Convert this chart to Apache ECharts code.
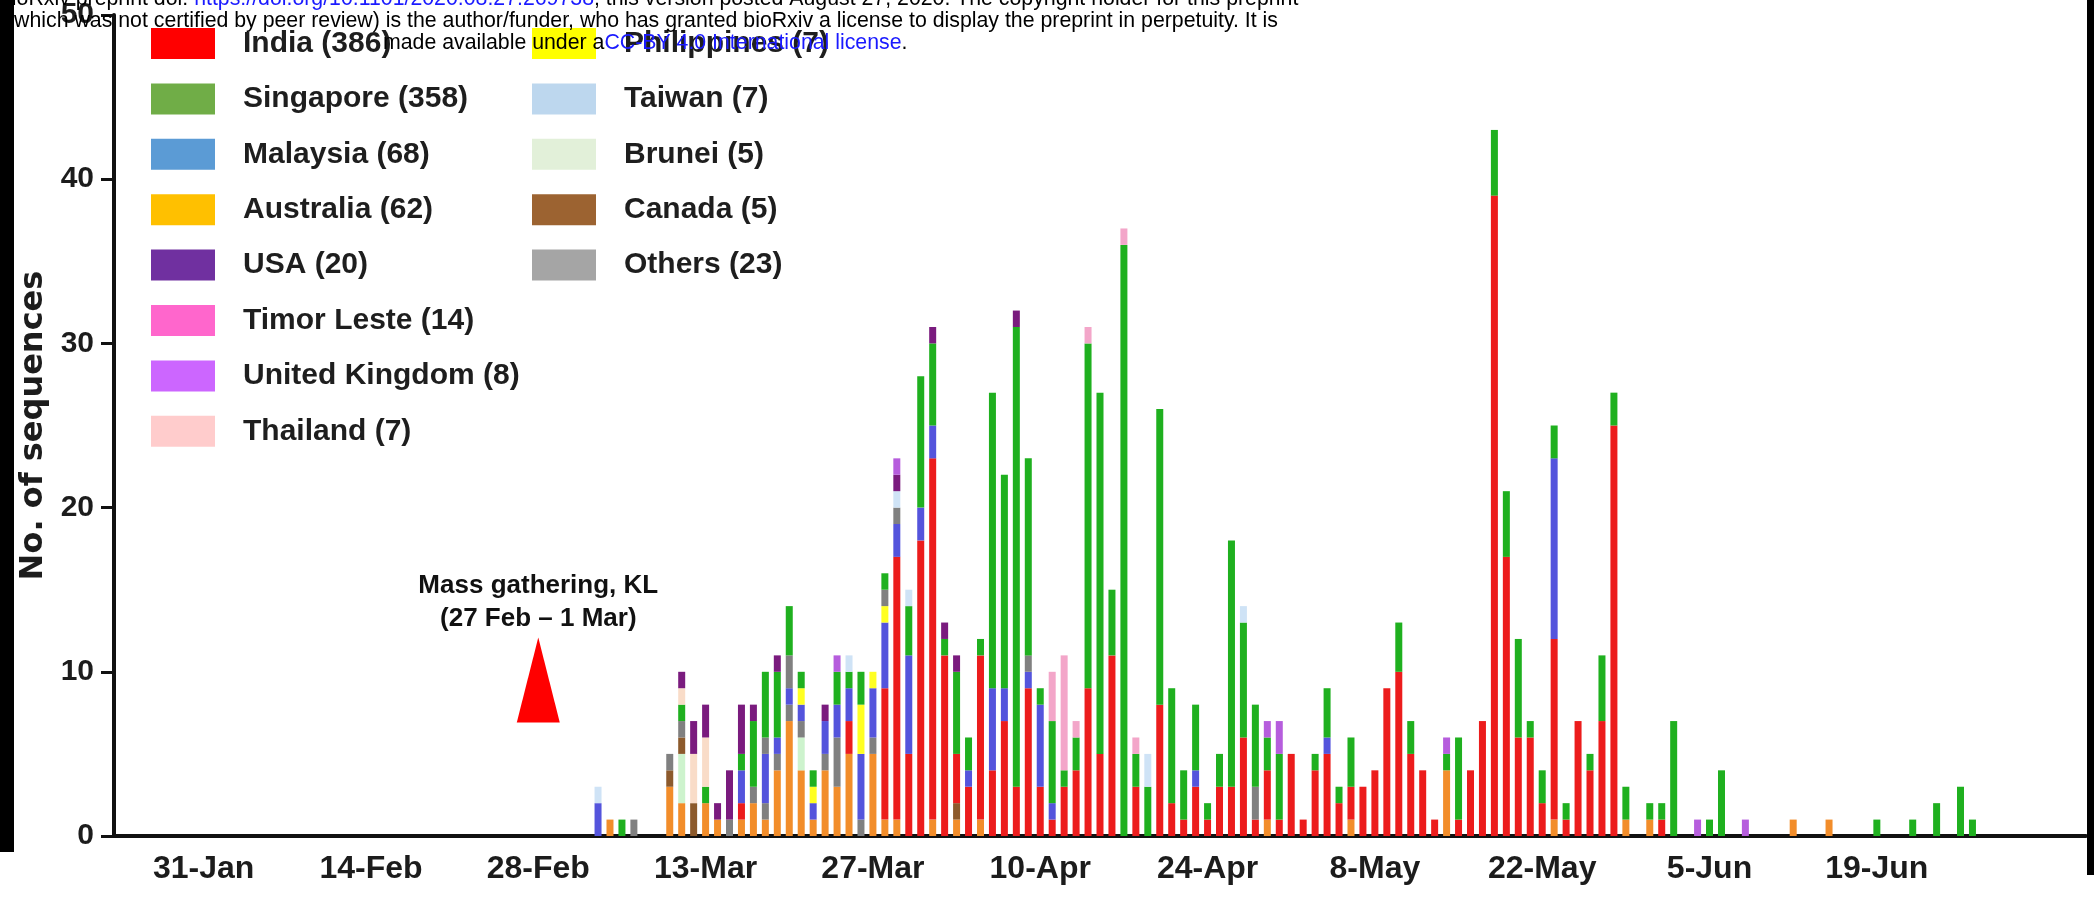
<!DOCTYPE html>
<html>
<head>
<meta charset="utf-8">
<title>No. of sequences by date</title>
<script src="https://cdn.jsdelivr.net/npm/echarts@6/dist/echarts.min.js"></script>
<style>
    html, body { margin: 0; padding: 0; background: #fff; }
    #main { width: 2094px; height: 899px; }
</style>
</head>
<body>
<div id="main"></div>
<script>
// categories: one per day, 24-Jan .. 6-Jul 2020
var months = [['Jan', 24, 31], ['Feb', 1, 29], ['Mar', 1, 31], ['Apr', 1, 30], ['May', 1, 31], ['Jun', 1, 30], ['Jul', 1, 6]];
var tickLabels = ['31-Jan', '14-Feb', '28-Feb', '13-Mar', '27-Mar', '10-Apr', '24-Apr', '8-May', '22-May', '5-Jun', '19-Jun'];

// sequences per day, [day, count]
var australia = [['5-Mar', 1], ['10-Mar', 3], ['11-Mar', 2], ['13-Mar', 2], ['14-Mar', 1], ['16-Mar', 1], ['17-Mar', 2], ['18-Mar', 1],
    ['19-Mar', 4], ['20-Mar', 7], ['21-Mar', 4], ['22-Mar', 1], ['23-Mar', 4], ['24-Mar', 3], ['25-Mar', 5], ['27-Mar', 5], ['28-Mar', 1],
    ['29-Mar', 1], ['1-Apr', 1], ['3-Apr', 1], ['5-Apr', 1], ['29-Apr', 1], ['6-May', 1], ['14-May', 4], ['23-May', 1], ['29-May', 1],
    ['31-May', 1], ['12-Jun', 1], ['15-Jun', 1]];
var brunei = [['11-Mar', 3], ['21-Mar', 2]];
var canada = [['10-Mar', 1], ['11-Mar', 1], ['12-Mar', 2], ['3-Apr', 1]];
var othersLow = [['7-Mar', 1], ['10-Mar', 1], ['11-Mar', 1], ['15-Mar', 1], ['17-Mar', 1], ['18-Mar', 1], ['19-Mar', 1], ['20-Mar', 1],
    ['21-Mar', 1], ['23-Mar', 1], ['24-Mar', 3], ['26-Mar', 1], ['27-Mar', 1]];
var india = [['16-Mar', 1], ['25-Mar', 2], ['28-Mar', 8], ['29-Mar', 16], ['30-Mar', 5], ['31-Mar', 18], ['1-Apr', 22], ['2-Apr', 11],
    ['3-Apr', 3], ['4-Apr', 3], ['5-Apr', 10], ['6-Apr', 4], ['7-Apr', 7], ['8-Apr', 3], ['9-Apr', 9], ['10-Apr', 3], ['11-Apr', 1],
    ['12-Apr', 3], ['13-Apr', 4], ['14-Apr', 9], ['15-Apr', 5], ['16-Apr', 11], ['18-Apr', 3], ['20-Apr', 8], ['21-Apr', 2], ['22-Apr', 1],
    ['23-Apr', 3], ['24-Apr', 1], ['25-Apr', 3], ['26-Apr', 3], ['27-Apr', 6], ['28-Apr', 1], ['29-Apr', 3], ['30-Apr', 1],
    ['1-May', 5], ['2-May', 1], ['3-May', 4], ['4-May', 5], ['5-May', 2], ['6-May', 2], ['7-May', 3], ['8-May', 4], ['9-May', 9],
    ['10-May', 10], ['11-May', 5], ['12-May', 4], ['13-May', 1], ['15-May', 1], ['16-May', 4], ['17-May', 7], ['18-May', 39],
    ['19-May', 17], ['20-May', 6], ['21-May', 6], ['22-May', 2], ['23-May', 11], ['24-May', 1], ['25-May', 7], ['26-May', 4],
    ['27-May', 7], ['28-May', 25], ['1-Jun', 1]];
var malaysia = [['4-Mar', 2], ['16-Mar', 2], ['18-Mar', 3], ['19-Mar', 1], ['20-Mar', 1], ['21-Mar', 1], ['22-Mar', 1], ['23-Mar', 2],
    ['24-Mar', 2], ['25-Mar', 2], ['26-Mar', 4], ['27-Mar', 3], ['28-Mar', 4], ['29-Mar', 2], ['30-Mar', 6], ['31-Mar', 2], ['1-Apr', 2],
    ['4-Apr', 1], ['6-Apr', 5], ['7-Apr', 2], ['9-Apr', 1], ['10-Apr', 5], ['11-Apr', 1], ['23-Apr', 1], ['4-May', 1], ['23-May', 11]];
var philippines = [['21-Mar', 1], ['22-Mar', 1], ['26-Mar', 3], ['27-Mar', 1], ['28-Mar', 1]];
var othersHigh = [['18-Mar', 1], ['20-Mar', 2], ['28-Mar', 1], ['29-Mar', 1], ['9-Apr', 1], ['28-Apr', 2]];
var singapore = [['6-Mar', 1], ['11-Mar', 1], ['13-Mar', 1], ['16-Mar', 1], ['17-Mar', 4], ['18-Mar', 4], ['19-Mar', 4], ['20-Mar', 3],
    ['21-Mar', 1], ['22-Mar', 1], ['24-Mar', 2], ['25-Mar', 1], ['26-Mar', 2], ['28-Mar', 1], ['30-Mar', 3], ['31-Mar', 8],
    ['1-Apr', 5], ['2-Apr', 1], ['3-Apr', 5], ['4-Apr', 2], ['5-Apr', 1], ['6-Apr', 18], ['7-Apr', 13], ['8-Apr', 28], ['9-Apr', 12],
    ['10-Apr', 1], ['11-Apr', 5], ['12-Apr', 1], ['13-Apr', 2], ['14-Apr', 21], ['15-Apr', 22], ['16-Apr', 4], ['17-Apr', 36],
    ['18-Apr', 2], ['19-Apr', 3], ['20-Apr', 18], ['21-Apr', 7], ['22-Apr', 3], ['23-Apr', 4], ['24-Apr', 1], ['25-Apr', 2],
    ['26-Apr', 15], ['27-Apr', 7], ['28-Apr', 5], ['29-Apr', 2], ['30-Apr', 4], ['3-May', 1], ['4-May', 3], ['5-May', 1], ['6-May', 3],
    ['10-May', 3], ['11-May', 2], ['14-May', 1], ['15-May', 5], ['18-May', 4], ['19-May', 4], ['20-May', 6], ['21-May', 1],
    ['22-May', 2], ['23-May', 2], ['24-May', 1], ['26-May', 1], ['27-May', 4], ['28-May', 2], ['29-May', 2], ['31-May', 1],
    ['1-Jun', 1], ['2-Jun', 7], ['5-Jun', 1], ['6-Jun', 4], ['19-Jun', 1], ['22-Jun', 1], ['24-Jun', 2], ['26-Jun', 3], ['27-Jun', 1]];
var taiwan = [['4-Mar', 1], ['25-Mar', 1], ['29-Mar', 1], ['30-Mar', 1], ['19-Apr', 2], ['27-Apr', 1]];
var thailand = [['11-Mar', 1], ['12-Mar', 3], ['13-Mar', 3]];
var timorLeste = [['11-Apr', 3], ['12-Apr', 7], ['13-Apr', 1], ['14-Apr', 1], ['17-Apr', 1], ['18-Apr', 1]];
var usa = [['11-Mar', 1], ['12-Mar', 2], ['13-Mar', 2], ['14-Mar', 1], ['15-Mar', 3], ['16-Mar', 3], ['17-Mar', 1], ['19-Mar', 1],
    ['23-Mar', 1], ['29-Mar', 1], ['1-Apr', 1], ['2-Apr', 1], ['3-Apr', 1], ['8-Apr', 1]];
var uk = [['24-Mar', 1], ['29-Mar', 1], ['29-Apr', 1], ['30-Apr', 2], ['14-May', 1], ['4-Jun', 1], ['8-Jun', 1]];

// mass gathering marker
var eventMark = [['28-Feb', 9.5]];

var days = [];
for (var m = 0; m < months.length; ++m) {
    for (var d = months[m][1]; d <= months[m][2]; ++d) {
        days.push(d + '-' + months[m][0]);
    }
}

function toSeries(pairs) {
    var out = [];
    for (var i = 0; i < days.length; ++i) out.push(null);
    for (var j = 0; j < pairs.length; ++j) {
        out[days.indexOf(pairs[j][0])] = pairs[j][1];
    }
    return out;
}

// stack order (bottom -> top), bar colour
var stackDefs = [
    { name: 'Australia (62)', data: australia, color: '#f28d2a' },
    { name: 'Brunei (5)', data: brunei, color: '#cdf3cd' },
    { name: 'Canada (5)', data: canada, color: '#8c5a2c' },
    { name: 'Others (23)', data: othersLow, color: '#808080' },
    { name: 'India (386)', data: india, color: '#ec1c1c' },
    { name: 'Malaysia (68)', data: malaysia, color: '#5454dc' },
    { name: 'Philippines (7)', data: philippines, color: '#ffff22' },
    { name: 'Others (23)', data: othersHigh, color: '#808080' },
    { name: 'Singapore (358)', data: singapore, color: '#1fb01f' },
    { name: 'Taiwan (7)', data: taiwan, color: '#cfe3f6' },
    { name: 'Thailand (7)', data: thailand, color: '#f9dcc8' },
    { name: 'Timor Leste (14)', data: timorLeste, color: '#f3a6c9' },
    { name: 'USA (20)', data: usa, color: '#7a1b7e' },
    { name: 'United Kingdom (8)', data: uk, color: '#b65ddd' }
];

var legendLeft = [
    { name: 'India (386)', itemStyle: { color: '#ff0000' } },
    { name: 'Singapore (358)', itemStyle: { color: '#70ad47' } },
    { name: 'Malaysia (68)', itemStyle: { color: '#5b9bd5' } },
    { name: 'Australia (62)', itemStyle: { color: '#ffc000' } },
    { name: 'USA (20)', itemStyle: { color: '#7030a0' } },
    { name: 'Timor Leste (14)', itemStyle: { color: '#ff66cc' } },
    { name: 'United Kingdom (8)', itemStyle: { color: '#cc66ff' } },
    { name: 'Thailand (7)', itemStyle: { color: '#ffcccc' } }
];
var legendRight = [
    { name: 'Philippines (7)', itemStyle: { color: '#ffff00' } },
    { name: 'Taiwan (7)', itemStyle: { color: '#bdd7ee' } },
    { name: 'Brunei (5)', itemStyle: { color: '#e2f0d9' } },
    { name: 'Canada (5)', itemStyle: { color: '#9c6331' } },
    { name: 'Others (23)', itemStyle: { color: '#a5a5a5' } }
];

var FONT = "'Liberation Sans', Arial, sans-serif";
var TXT = '#1c1c1c';

var series = [];
for (var s = 0; s < stackDefs.length; ++s) {
    series.push({
        name: stackDefs[s].name,
        type: 'bar',
        stack: 'total',
        barWidth: 7,
        itemStyle: { color: stackDefs[s].color },
        data: toSeries(stackDefs[s].data)
    });
}
series.push({
    name: 'Mass gathering',
    type: 'scatter',
    symbol: 'triangle',
    symbolSize: [43, 85],
    itemStyle: { color: '#ff0000', opacity: 1 },
    label: {
        show: true,
        position: 'top',
        distance: 2,
        formatter: 'Mass gathering, KL\n(27 Feb \u2013 1 Mar)',
        fontFamily: FONT,
        fontWeight: 'bold',
        fontSize: 26,
        lineHeight: 33,
        color: '#111',
        opacity: 1
    },
    data: eventMark
});

function legendBlock(left, data) {
    return {
        orient: 'vertical',
        left: left,
        top: 28,
        padding: 0,
        itemWidth: 64,
        itemHeight: 31,
        itemGap: 24.4,
        icon: 'rect',
        textStyle: {
            fontFamily: FONT,
            fontWeight: 'bold',
            fontSize: 30,
            lineHeight: 31,
            color: '#1e1e1e',
            padding: [0, 0, 0, 23]
        },
        data: data
    };
}

var lineFont = '21.3px ' + FONT;

var option = {
    animation: false,
    backgroundColor: '#fff',
    grid: { left: 114, right: 8, top: 8, bottom: 63 },
    legend: [legendBlock(151, legendLeft), legendBlock(532, legendRight)],
    xAxis: {
        type: 'category',
        data: days,
        boundaryGap: true,
        axisLine: { lineStyle: { color: '#111', width: 4 } },
        axisTick: {
            alignWithLabel: true,
            length: 12,
            lineStyle: { color: '#111', width: 4 },
            interval: function (idx, val) { return tickLabels.indexOf(val) >= 0; }
        },
        axisLabel: {
            interval: function (idx, val) { return tickLabels.indexOf(val) >= 0; },
            fontFamily: FONT,
            fontWeight: 'bold',
            fontSize: 32,
            color: TXT,
            margin: 17
        },
        splitLine: { show: false }
    },
    yAxis: {
        type: 'value',
        min: 0,
        max: 50,
        interval: 10,
        name: 'No. of sequences',
        nameLocation: 'middle',
        nameGap: 64,
        nameTextStyle: {
            fontFamily: "'DejaVu Sans', sans-serif",
            fontWeight: 'bold',
            fontSize: 32,
            color: TXT
        },
        axisLine: { show: true, lineStyle: { color: '#111', width: 4 } },
        axisTick: { show: true, length: 13, lineStyle: { color: '#111', width: 3 } },
        axisLabel: {
            fontFamily: FONT,
            fontWeight: 'bold',
            fontSize: 30,
            color: TXT,
            margin: 20
        },
        splitLine: { show: false }
    },
    graphic: [
        {
            type: 'text', x: 0, y: -1, z: 100,
            style: {
                text: 'bioRxiv preprint doi: {b|https://doi.org/10.1101/2020.08.27.269738}; this version posted August 27, 2020. The copyright holder for this preprint',
                font: lineFont, fill: '#000', verticalAlign: 'middle',
                rich: { b: { font: lineFont, fill: '#1a1aff' } }
            }
        },
        {
            type: 'text', x: 7, y: 21, z: 100,
            style: {
                text: '(which was not certified by peer review) is the author/funder, who has granted bioRxiv a license to display the preprint in perpetuity. It is',
                font: lineFont, fill: '#000', verticalAlign: 'middle'
            }
        },
        {
            type: 'text', x: 383, y: 43, z: 100,
            style: {
                text: 'made available under a{b|CC-BY 4.0 International license}.',
                font: lineFont, fill: '#000', verticalAlign: 'middle',
                rich: { b: { font: lineFont, fill: '#1a1aff' } }
            }
        },
        { type: 'rect', left: 0, top: 0, z: 110, shape: { width: 14, height: 852 }, style: { fill: '#000' } },
        { type: 'rect', left: 2087, top: 0, z: 110, shape: { width: 7, height: 875 }, style: { fill: '#000' } }
    ],
    series: series
};

var chart = echarts.init(document.getElementById('main'));
chart.setOption(option);
</script>
</body>
</html>
